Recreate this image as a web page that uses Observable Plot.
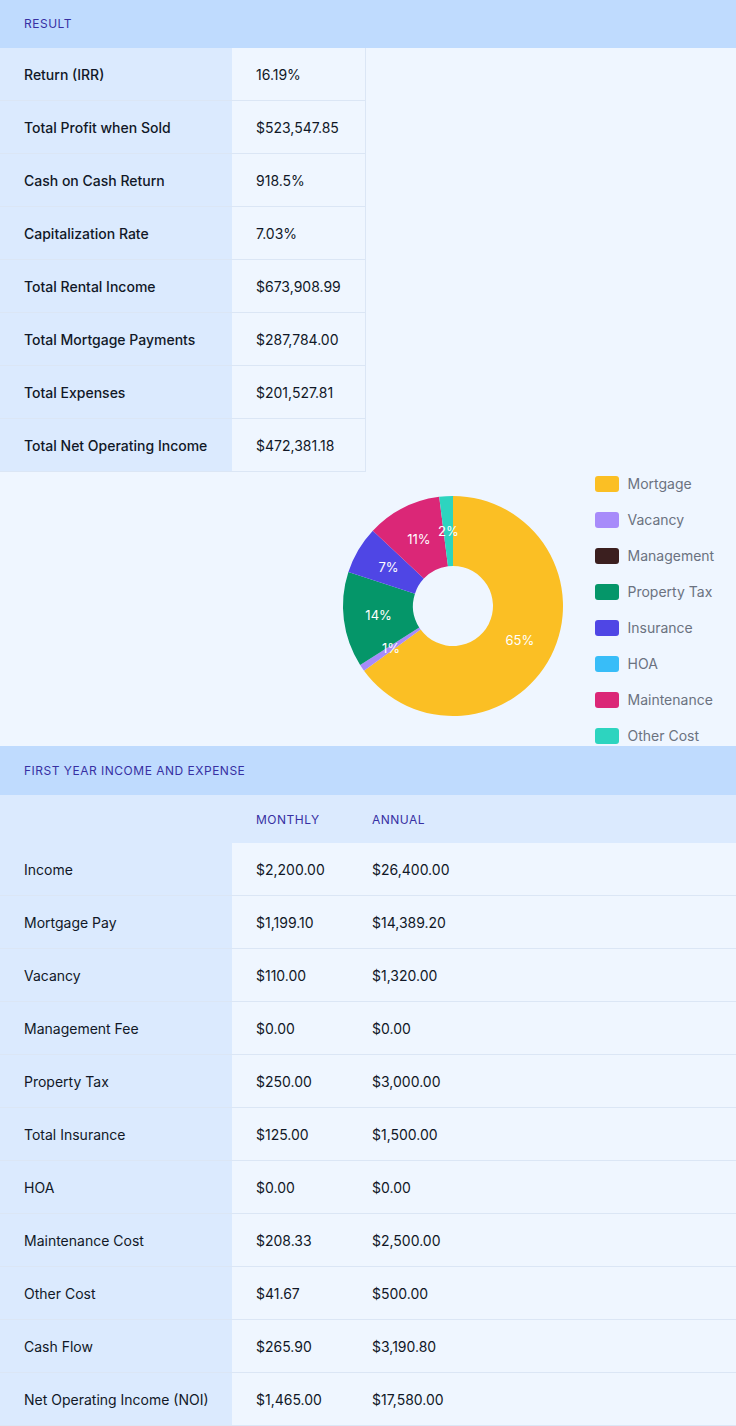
<!DOCTYPE html>
<html><head><meta charset="utf-8">
<script src="https://cdn.jsdelivr.net/npm/d3@7"></script>
<script src="https://cdn.jsdelivr.net/npm/@observablehq/plot@0.6"></script>
<style>
body{margin:0;background:#eff6ff;font-family:Inter,"Noto Sans",sans-serif;color:#111827;width:736px}
.hd{height:48px;background:#bfdbfe;color:#3730a3;font-size:12px;letter-spacing:.5px;line-height:48px;padding-left:24px}
table{border-collapse:collapse}
td{height:52px;font-size:14px;border-bottom:1px solid #dbe6f5;padding:0 0 0 24px}
td.l{background:#dbeafe}
td.v{background:#eff6ff}
#res td.l{width:208px}
#res td.v{width:109px;border-right:1px solid #dbe6f5}
#fy{width:736px;table-layout:fixed}
#fy tr.h td{height:48px;font-size:12px;color:#3730a3;letter-spacing:.5px;background:#dbeafe;border:none}
</style></head><body>
<div class="hd">RESULT</div>
<table id="res"></table>
<div id="chart" style="height:274px"></div>
<div class="hd" style="height:49px;line-height:49px">FIRST YEAR INCOME AND EXPENSE</div>
<table id="fy"><colgroup><col style="width:232px"><col style="width:116px"><col></colgroup></table>
<script>
const resultLabels = ["Return (IRR)","Total Profit when Sold","Cash on Cash Return","Capitalization Rate","Total Rental Income","Total Mortgage Payments","Total Expenses","Total Net Operating Income"];
const resultValues = ["16.19%","$523,547.85","918.5%","7.03%","$673,908.99","$287,784.00","$201,527.81","$472,381.18"];
const costNames = ["Mortgage","Vacancy","Management","Property Tax","Insurance","HOA","Maintenance","Other Cost"];
const costShares = [65,1,0,14,7,0,11,2];
const costColors = ["#fbbf24","#a78bfa","#3b1f1f","#059669","#4f46e5","#38bdf8","#db2777","#2dd4bf"];
const rowLabels = ["Income","Mortgage Pay","Vacancy","Management Fee","Property Tax","Total Insurance","HOA","Maintenance Cost","Other Cost","Cash Flow","Net Operating Income (NOI)"];
const monthly = ["$2,200.00","$1,199.10","$110.00","$0.00","$250.00","$125.00","$0.00","$208.33","$41.67","$265.90","$1,465.00"];
const annual = ["$26,400.00","$14,389.20","$1,320.00","$0.00","$3,000.00","$1,500.00","$0.00","$2,500.00","$500.00","$3,190.80","$17,580.00"];

d3.select("#res").selectAll("tr").data(resultLabels).join("tr")
  .html((d,i)=>`<td class="l" style="font-weight:500">${d}</td><td class="v">${resultValues[i]}</td>`);
const fy = d3.select("#fy");
fy.append("tr").attr("class","h").html(`<td class="l"></td><td>MONTHLY</td><td>ANNUAL</td>`);
fy.selectAll("tr.r").data(rowLabels).join("tr").attr("class","r")
  .html((d,i)=>`<td class="l">${d}</td><td class="v">${monthly[i]}</td><td class="v">${annual[i]}</td>`);

const data = costNames.map((name,i)=>({name, share: costShares[i]}));

function donut(index, scales, values, dims) {
  const cx = scales.x(453), cy = 134;
  const arcs = d3.pie().sort(null).value(d=>d.share)(data);
  const arc = d3.arc().innerRadius(40).outerRadius(110);
  const g = d3.create("svg:g").attr("transform",`translate(${cx},${cy})`);
  g.selectAll("path").data(arcs).join("path")
    .attr("d",arc).attr("fill",d=>scales.color(d.data.name));
  const la = d3.arc().innerRadius(75).outerRadius(75);
  g.selectAll("text").data(arcs.filter(d=>d.data.share>0)).join("text")
    .attr("transform",d=>`translate(${la.centroid(d)})`)
    .attr("text-anchor","middle").attr("dy","0.35em")
    .attr("fill","white").attr("font-size",13)
    .text(d=>d.data.share+"%");
  return g.node();
}

const chart = Plot.plot({
  width: 736, height: 274, margin: 0,
  style: {background:"transparent", fontFamily:"Inter, sans-serif"},
  x: {domain:[0,736], range:[0,736], axis:null},
  y: {type:"band", domain:costNames, range:[-6,282], padding:0, axis:null},
  color: {domain:costNames, range:costColors},
  marks: [
    donut,
    Plot.barX(data, {x1:595, x2:619, y:"name", fill:"name", insetTop:10, insetBottom:10, rx:3}),
    Plot.text(data, {x:627, y:"name", text:"name", textAnchor:"start", fill:"#6b7280", fontSize:14})
  ]
});
d3.select("#chart").append(()=>chart);
</script>
</body></html>
